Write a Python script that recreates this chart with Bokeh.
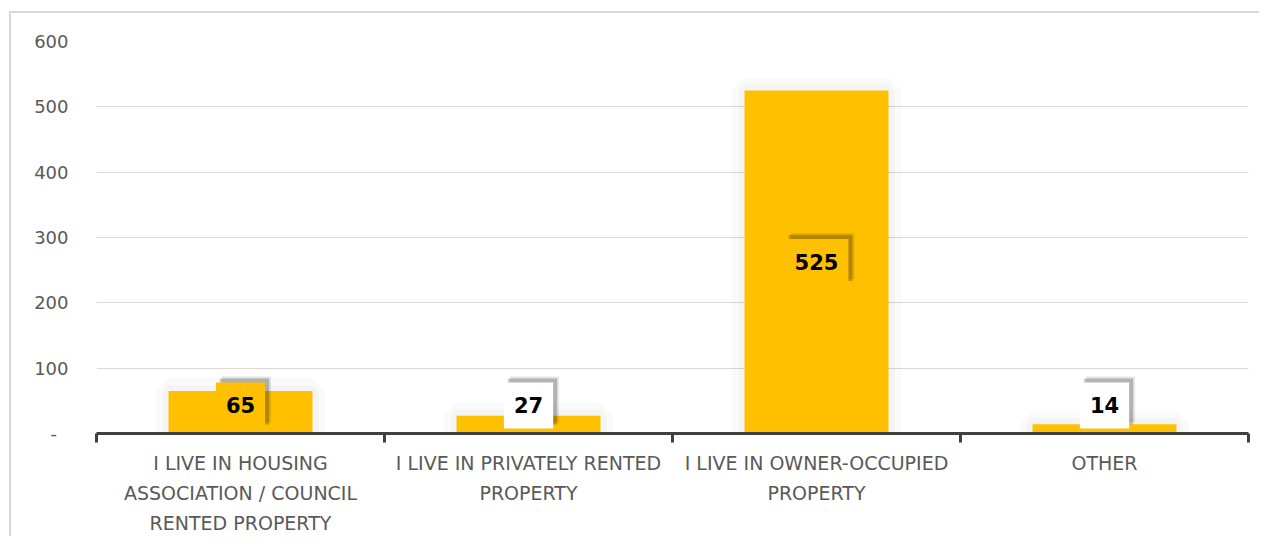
from bokeh.plotting import figure
from bokeh.models import ColumnDataSource, Range1d, LinearAxis, FixedTicker
from bokeh.core.properties import value
from bokeh.embed import file_html
from bokeh.resources import INLINE

# ---- data ----
categories = [
    "I LIVE IN HOUSING\nASSOCIATION / COUNCIL\nRENTED PROPERTY",
    "I LIVE IN PRIVATELY RENTED\nPROPERTY",
    "I LIVE IN OWNER-OCCUPIED\nPROPERTY",
    "OTHER",
]
counts = [65, 27, 525, 14]
y_ticks = [0, 100, 200, 300, 400, 500, 600]
y_tick_labels = ["-", "100", "200", "300", "400", "500", "600"]

BAR = "#FFC000"
TXT = "#595959"
FONT = "DejaVu Sans"

n = len(categories)
centers = [i + 0.5 for i in range(n)]
bounds = list(range(n + 1))
# label placement derived from values
label_y = [max(v / 2, 43) for v in counts]
label_bg = [BAR if v >= ly + 20 else "white" for v, ly in zip(counts, label_y)]
src = ColumnDataSource(dict(x=centers, v=counts, ly=label_y,
                            txt=[str(v) for v in counts], bg=label_bg))

p = figure(x_range=Range1d(0, n), y_range=Range1d(0, 600),
           frame_width=1152, frame_height=392, output_backend="svg", toolbar_location=None,
           x_axis_location=None, y_axis_location="left",
           min_border_left=85, min_border_top=28, min_border_right=11, min_border_bottom=10)
p.styles = {"border-left": "2px solid #d9d9d9", "border-top": "2px solid #d9d9d9",
            "margin-left": "9px", "margin-top": "11px"}
p.outline_line_color = None
p.background_fill_color = "white"
p.border_fill_color = "white"

# bars with a soft halo
p.vbar(x="x", top="v", width=0.5, source=src, fill_color=None,
       line_color="black", line_alpha=0.02, line_width=26)
p.vbar(x="x", top="v", width=0.5, source=src, fill_color=None,
       line_color="black", line_alpha=0.025, line_width=12)
p.vbar(x="x", top="v", width=0.5, source=src, fill_color=BAR, line_color=None)

# y axis
ya = p.yaxis[0]
ya.ticker = FixedTicker(ticks=y_ticks)
ya.major_label_overrides = {t: (l if l != "-" else "-\u00a0\u00a0") for t, l in zip(y_ticks, y_tick_labels)}
ya.axis_line_color = None
ya.major_tick_line_color = None
ya.minor_tick_line_color = None
ya.major_label_standoff = 22
ya.major_label_text_font = FONT
ya.major_label_text_font_size = "18px"
ya.major_label_text_color = TXT

p.ygrid.ticker = FixedTicker(ticks=y_ticks)
p.ygrid.grid_line_color = "#d9d9d9"
p.ygrid.grid_line_width = 1
p.xgrid.grid_line_color = None

# x axis: category labels at centres, boundary ticks as minor ticks
xa = LinearAxis(ticker=FixedTicker(ticks=centers, minor_ticks=bounds))
xa.axis_line_color = "#404040"
xa.axis_line_width = 3
xa.major_tick_line_color = None
xa.major_tick_out = 0
xa.major_tick_in = 0
xa.minor_tick_line_color = "#404040"
xa.minor_tick_line_width = 3
xa.minor_tick_out = 9
xa.minor_tick_in = 0
xa.major_label_overrides = dict(zip(centers, categories))
xa.major_label_text_font = FONT
xa.major_label_text_font_size = "19px"
xa.major_label_text_color = TXT
xa.major_label_text_line_height = 1.37
xa.major_label_standoff = 9
p.add_layout(xa, "below")

# data labels with shadow (offset right and down)
for dx, dy, a in [(6, -6, 0.10), (4, -4, 0.22)]:
    p.text(x="x", y="ly", text="txt", source=src, text_align="center",
           text_baseline="middle", text_font=value(FONT), text_font_style="bold",
           text_font_size="21px", text_alpha=0.0, x_offset=dx, y_offset=dy,
           background_fill_color="black", background_fill_alpha=a,
           padding=dict(x=10, y=15))
p.text(x="x", y="ly", text="txt", source=src, text_align="center",
       text_baseline="middle", text_font=value(FONT), text_font_style="bold",
       text_font_size="21px", text_color="black",
       background_fill_color="bg", padding=dict(x=10, y=15))

open("out.html", "w").write(file_html(p, INLINE))
